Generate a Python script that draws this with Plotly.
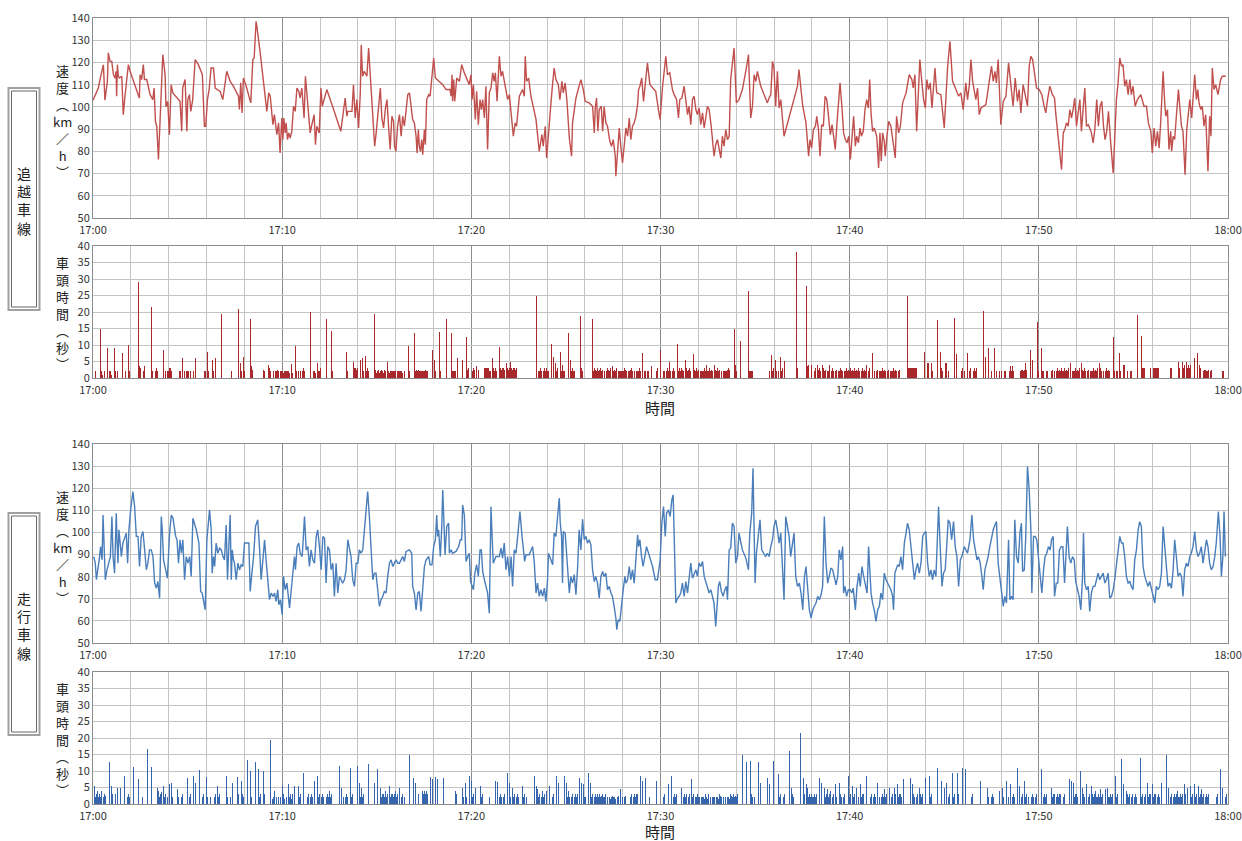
import plotly.graph_objects as go

W, H = 1242, 841

tick_minutes = [0, 10, 20, 30, 40, 50, 60]
tick_labels = ["17:00", "17:10", "17:20", "17:30", "17:40", "17:50", "18:00"]

# ---- speed (minutes after 17:00, km/h) ----
upper_speed = [
    (0.00,103),(0.28,108.5),(0.41,113.8),(0.55,119),(0.63,103),(0.69,108),(0.76,111.5),(0.81,124.3),(0.90,120.5),(0.99,120.5),
    (1.08,114.5),(1.16,113),(1.22,116),(1.25,104.8),(1.29,119),(1.34,113.8),(1.39,113),(1.52,113.8),(1.60,96.5),(1.69,104.8),
    (1.78,113.8),(1.87,119),(1.96,116),(2.22,110),(2.45,104),(2.49,114.5),(2.57,112.3),(2.66,119),(2.72,112.3),(2.84,112.3),
    (3.02,105.5),(3.16,103.3),(3.23,108.5),(3.30,93.5),(3.37,91.3),(3.46,76.3),(3.54,92.8),(3.69,123.5),(3.81,114.5),(3.86,100),
    (3.95,102.5),(4.04,87.5),(4.13,110),(4.22,106.3),(4.60,102.5),(4.69,89),(4.74,108.5),(4.87,112.3),(4.96,89),(5.01,103.3),
    (5.10,105.5),(5.17,98),(5.27,103.3),(5.40,121.3),(5.57,119),(5.78,114.5),(5.89,91.3),(5.96,91.3),(6.05,103.3),(6.14,107.8),
    (6.24,117.5),(6.37,117.5),(6.46,108.5),(6.72,107),(6.86,103.3),(7.07,116),(7.25,111.5),(7.42,109.3),(7.69,104.8),(7.74,98.8),
    (7.81,110.8),(7.88,97.3),(7.95,113),(8.10,109.3),(8.34,101.8),(8.45,121.3),(8.52,122),(8.62,138.5),(8.66,136.3),(8.84,124.3),
    (9.19,98),(9.29,106.3),(9.37,104.8),(9.45,95.8),(9.51,92),(9.59,96.5),(9.68,91.3),(9.72,87.5),(9.81,92.8),(9.89,79.3),
    (9.98,95),(10.04,85.3),(10.09,95),(10.16,88.3),(10.21,92.8),(10.28,85.3),(10.35,88.3),(10.42,86),(10.51,89),(10.60,100.3),
    (10.69,98),(10.78,108.5),(10.88,107),(10.95,104),(11.04,108.5),(11.16,95),(11.23,113.8),(11.31,105.5),(11.48,88.3),(11.57,92),
    (11.69,96.5),(11.76,83),(11.83,91.3),(11.96,88.3),(12.05,108.5),(12.12,100.3),(12.36,107.8),(12.72,98.8),(13.10,89),(13.33,104),
    (13.42,95.8),(13.47,98),(13.69,98),(13.77,110),(13.86,95),(13.95,103.3),(14.04,90.5),(14.13,106.3),(14.18,128),(14.25,113.8),
    (14.34,116),(14.48,113.8),(14.57,126.5),(14.66,113.8),(14.74,103.3),(14.89,82.3),(14.97,88.3),(15.10,99.5),(15.19,108.5),(15.27,95),
    (15.36,90.5),(15.45,98.8),(15.54,103.3),(15.63,90.5),(15.71,80.8),(15.80,95.8),(15.89,93.5),(15.94,82.3),(16.01,80),(16.10,91.3),
    (16.20,96.5),(16.29,86.8),(16.37,95.8),(16.46,91.3),(16.64,105.5),(16.73,106.3),(16.90,94.3),(16.99,92.8),(17.08,86.8),(17.13,79.3),
    (17.20,89.8),(17.25,82.3),(17.31,80),(17.38,85.3),(17.43,78.5),(17.52,89.8),(17.57,83),(17.64,103.3),(17.75,105.5),(17.82,104.8),
    (17.92,113.8),(18.01,122),(18.10,113),(18.27,111.5),(18.49,110),(18.66,107.8),(18.87,107.8),(18.93,104.8),(18.98,114.5),(19.01,102.5),
    (19.07,112.3),(19.12,102.5),(19.23,113),(19.37,111.5),(19.49,119),(19.63,115.3),(19.81,111.5),(19.89,110),(19.98,114.5),(20.04,103.3),
    (20.11,110),(20.21,94.3),(20.28,107),(20.37,92),(20.46,103.3),(20.53,98.8),(20.60,103.3),(20.69,95),(20.77,109.3),(20.86,80.8),
    (20.95,106.3),(21.04,108.5),(21.13,115.3),(21.21,111.5),(21.27,115.3),(21.36,102.5),(21.48,122.8),(21.57,113.8),(21.65,116),(21.80,108.5),
    (21.92,103.3),(22.01,105.5),(22.15,95),(22.22,86.8),(22.32,92.8),(22.39,91.3),(22.54,104.8),(22.71,107.8),(22.80,104.8),(22.85,122.8),
    (22.92,111.5),(23.03,113),(23.15,104.8),(23.42,94.3),(23.59,80),(23.73,87.5),(23.80,82.3),(23.91,91.3),(23.98,77),(24.07,85.3),
    (24.21,101.8),(24.30,110.8),(24.38,117.5),(24.47,112.3),(24.60,110),(24.68,103.3),(24.79,111.5),(24.86,106.3),(24.96,110.8),(25.05,103.3),
    (25.18,86),(25.30,77.8),(25.35,92.8),(25.53,104),(25.79,112.3),(25.92,107.8),(26.02,102.5),(26.23,101.8),(26.41,100.3),(26.50,88.3),
    (26.55,99.5),(26.62,104),(26.69,89),(26.76,98.8),(26.87,100.3),(26.94,89),(27.02,100.3),(27.11,92.8),(27.20,91.3),(27.32,84.5),
    (27.41,82.3),(27.50,85.3),(27.61,77.8),(27.64,68.8),(27.73,77.8),(27.82,90.5),(27.90,82.3),(27.99,74.8),(28.08,82.3),(28.17,90.5),
    (28.26,86.8),(28.35,95),(28.43,85.3),(28.52,91.3),(28.61,92.8),(28.70,95.8),(28.79,101),(28.84,107.8),(28.91,109.3),(29.01,113),
    (29.10,102.5),(29.19,111.5),(29.31,119.8),(29.44,110),(29.58,108.5),(29.75,107),(29.89,98.8),(29.98,94.3),(30.11,109.3),(30.23,117.5),
    (30.28,122.8),(30.37,114.5),(30.49,115.3),(30.63,107.8),(30.72,105.5),(30.85,103.3),(30.95,95),(31.02,103.3),(31.13,104),(31.25,109.3),
    (31.34,103.3),(31.43,96.5),(31.51,100.3),(31.60,92),(31.69,103.3),(31.78,104.8),(31.87,98.8),(31.95,96.5),(32.04,99.5),(32.13,92),
    (32.22,97.3),(32.31,90.5),(32.39,95),(32.48,100.3),(32.57,98.8),(32.68,91.3),(32.83,77.8),(32.92,83),(33.01,85.3),(33.10,80),
    (33.19,77),(33.27,86.8),(33.36,82.3),(33.45,89.8),(33.54,85.3),(33.63,86.8),(33.71,112.3),(33.89,126.5),(34.01,101.8),(34.15,103.3),
    (34.33,107.8),(34.54,117.5),(34.65,123.5),(34.77,95),(34.86,100.3),(34.95,114.5),(35.04,111.5),(35.12,116),(35.30,109.3),(35.48,105.5),
    (35.65,101.8),(35.74,104),(35.83,105.5),(35.92,120.5),(36.00,117.5),(36.09,100.3),(36.18,116),(36.27,99.5),(36.36,103.3),(36.53,86.8),
    (37.24,109.3),(37.32,116.8),(37.52,100.3),(37.69,92.8),(37.83,77.8),(37.90,85.3),(37.99,81.5),(38.08,89.8),(38.19,91.3),(38.26,95.8),
    (38.35,89.8),(38.43,77.8),(38.52,92),(38.61,91.3),(38.70,104.8),(38.79,103.3),(38.89,92.8),(38.98,87.5),(39.07,92),(39.15,85.3),
    (39.24,80.8),(39.33,92.8),(39.49,110.8),(39.60,98.8),(39.68,88.3),(39.77,85.3),(39.86,83.8),(39.95,86.8),(40.04,76.3),(40.12,86),
    (40.21,95.8),(40.30,82.3),(40.37,86.8),(40.46,83.8),(40.55,90.5),(40.62,86.8),(40.72,89),(40.81,98.8),(40.90,103.3),(40.99,99.5),
    (41.06,112.3),(41.13,97.3),(41.21,89),(41.30,90.5),(41.43,86.8),(41.53,72.5),(41.60,88.3),(41.67,75.5),(41.74,88.3),(41.83,84.5),
    (41.88,77.8),(41.97,86.8),(42.06,93.5),(42.18,91.3),(42.31,83.8),(42.41,77),(42.48,95.8),(42.59,88.3),(42.68,91.3),(42.80,101.8),
    (42.98,106.3),(43.15,114.5),(43.29,112.3),(43.36,108.5),(43.45,114.5),(43.54,89),(43.64,107.8),(43.71,121.3),(43.82,110.8),(43.91,103.3),
    (44.00,99.5),(44.08,112.3),(44.17,107.8),(44.26,110.8),(44.35,99.5),(44.44,110.8),(44.51,117.5),(44.60,106.3),(44.82,105.5),(45.00,90.5),
    (45.18,118.3),(45.30,129.5),(45.44,111.5),(45.62,107.8),(45.76,104.8),(45.88,106.3),(46.00,98.8),(46.14,110.8),(46.23,103.3),(46.32,109.3),
    (46.41,121.3),(46.50,111.5),(46.58,107),(46.67,103.3),(46.76,108.5),(46.85,96.5),(46.94,99.5),(47.20,101),(47.38,111.5),(47.50,118.3),
    (47.59,111.5),(47.68,116),(47.76,110.8),(47.85,121.3),(47.90,111.5),(47.99,92),(48.12,102.5),(48.26,104.8),(48.40,119.8),(48.52,108.5),
    (48.64,100.3),(48.75,113),(48.87,102.5),(48.96,107.8),(49.05,97.3),(49.17,110),(49.31,103.3),(49.40,100.3),(49.49,118.3),(49.58,122.8),
    (49.67,121.3),(49.75,116.8),(49.88,108.5),(50.02,107.8),(50.16,105.5),(50.28,100.3),(50.37,97.3),(50.46,103.3),(50.58,109.3),(50.72,105.5),
    (50.83,104),(50.90,96.5),(50.99,89.8),(51.07,82.3),(51.20,71.8),(51.29,88.3),(51.37,89.8),(51.46,92.8),(51.55,91.3),(51.64,98.8),
    (51.73,95),(51.81,98.8),(51.90,104),(51.99,91.3),(52.08,97.3),(52.17,103.3),(52.25,89),(52.34,100.3),(52.43,108.5),(52.52,91.3),
    (52.61,92),(52.69,90.5),(52.78,88.3),(52.87,83.8),(52.96,89.8),(53.06,103.3),(53.15,91.3),(53.24,100.3),(53.33,102.5),(53.42,91.3),
    (53.50,85.3),(53.59,89),(53.68,98),(53.80,83.8),(53.93,70.3),(54.01,85.3),(54.10,103.3),(54.19,110.8),(54.28,122),(54.37,118.3),
    (54.45,119),(54.54,109.3),(54.63,112.3),(54.72,105.5),(54.81,112.3),(54.89,105.5),(54.98,109.3),(55.09,100.3),(55.21,103.3),(55.39,105.5),
    (55.56,100.3),(55.69,100.3),(55.79,92.8),(55.92,89),(56.00,79.3),(56.09,90.5),(56.18,82.3),(56.27,89),(56.36,81.5),(56.44,92.8),
    (56.57,116),(56.65,102.5),(56.71,95.8),(56.80,98.8),(56.88,80.8),(56.97,89),(57.02,80),(57.10,86.8),(57.18,85.3),(57.27,95.8),
    (57.38,107.8),(57.45,100.3),(57.54,91.3),(57.62,89),(57.73,69.5),(57.82,89.8),(57.90,98.8),(57.98,103.3),(58.08,95),(58.15,103.3),
    (58.24,114.5),(58.33,103.3),(58.40,107.8),(58.47,101.8),(58.56,98.8),(58.64,100.3),(58.73,91.3),(58.82,96.5),(58.94,71),(59.03,95.8),
    (59.10,86.8),(59.17,117.5),(59.26,107.8),(59.35,110),(59.47,105.5),(59.61,112.3),(59.70,113.8),(59.88,113.8),
]

lower_speed = [
    (0.04,89.1),(0.12,86.1),(0.18,78.6),(0.26,83.1),(0.35,89.1),(0.40,93.6),(0.48,87.6),(0.53,107.9),(0.58,92.1),(0.65,78.6),
    (0.74,83.1),(0.83,86.1),(0.92,89.1),(1.00,107.2),(1.06,89.1),(1.14,81.6),(1.23,108.7),(1.27,96.7),(1.32,86.1),(1.37,101.2),
    (1.44,95.2),(1.50,89.1),(1.58,95.2),(1.67,97.4),(1.76,99.7),(1.83,86.1),(1.90,101.2),(1.99,110.2),(2.11,118.5),(2.20,111.7),
    (2.29,98.2),(2.38,98.2),(2.46,84.6),(2.55,98.2),(2.64,100.4),(2.73,92.1),(2.82,83.1),(2.90,86.1),(2.99,92.1),(3.08,92.1),
    (3.17,89.1),(3.26,77.1),(3.35,74.8),(3.43,77.8),(3.52,70.3),(3.61,107.2),(3.66,101.2),(3.73,87.6),(3.82,83.1),(3.93,79.3),
    (4.05,99.7),(4.14,107.9),(4.23,106.4),(4.37,98.2),(4.44,96.7),(4.52,86.1),(4.60,96.7),(4.67,90.6),(4.75,96.7),(4.84,78.6),
    (4.93,89.1),(5.02,86.1),(5.11,89.1),(5.19,80.1),(5.28,106.4),(5.37,104.2),(5.46,101.2),(5.60,95.2),(5.69,73.3),(5.77,72.6),
    (5.85,68.8),(5.93,65.0),(6.02,96.7),(6.11,108.7),(6.16,110.2),(6.25,101.2),(6.30,81.6),(6.37,89.1),(6.43,84.6),(6.51,95.2),
    (6.60,90.6),(6.69,92.9),(6.78,92.1),(6.87,89.1),(6.95,87.6),(7.04,103.4),(7.11,78.6),(7.18,93.6),(7.25,107.9),(7.31,78.6),
    (7.36,92.1),(7.43,87.6),(7.48,86.1),(7.57,78.6),(7.66,86.1),(7.75,83.1),(7.83,85.4),(7.92,84.6),(8.01,95.2),(8.24,95.2),
    (8.31,73.3),(8.40,81.6),(8.49,89.1),(8.59,102.7),(8.71,105.7),(8.80,93.6),(8.89,78.6),(8.98,87.6),(9.07,96.7),(9.15,87.6),
    (9.24,80.1),(9.33,69.6),(9.42,72.6),(9.51,71.1),(9.60,72.6),(9.68,68.8),(9.77,74.1),(9.82,67.3),(9.91,69.6),(10.00,62.8),
    (10.07,80.1),(10.16,74.1),(10.25,77.1),(10.32,71.1),(10.39,65.8),(10.48,74.1),(10.56,80.1),(10.65,89.1),(10.70,83.1),(10.79,93.6),
    (10.88,95.2),(10.95,90.6),(11.06,89.1),(11.13,102.7),(11.18,107.2),(11.27,92.1),(11.36,93.6),(11.44,84.6),(11.53,92.1),(11.62,87.6),
    (11.71,86.1),(11.80,98.2),(11.88,101.2),(11.97,93.6),(12.06,83.1),(12.15,98.2),(12.24,97.4),(12.32,77.1),(12.41,93.6),(12.50,92.1),
    (12.59,83.1),(12.68,86.1),(12.76,71.1),(12.85,86.1),(12.94,72.6),(13.03,80.1),(13.12,78.6),(13.20,77.1),(13.29,78.6),(13.38,83.1),
    (13.47,96.7),(13.56,92.1),(13.64,89.1),(13.73,78.6),(13.82,75.6),(13.91,86.1),(14.00,86.1),(14.08,92.1),(14.17,90.6),(14.26,92.1),
    (14.35,102.7),(14.44,110.2),(14.52,118.5),(14.61,107.2),(14.70,89.1),(14.79,78.6),(14.88,81.6),(14.96,81.6),(15.05,74.1),(15.14,66.6),
    (15.23,69.6),(15.32,71.1),(15.40,73.3),(15.49,72.6),(15.58,80.1),(15.67,86.1),(15.76,87.6),(15.85,84.6),(15.93,86.1),(16.02,87.6),
    (16.11,86.1),(16.20,86.1),(16.37,89.1),(16.46,86.9),(16.55,91.4),(16.73,92.1),(16.85,90.6),(16.90,75.6),(16.99,72.6),(17.08,65.0),
    (17.17,72.6),(17.25,73.3),(17.34,64.3),(17.43,75.6),(17.52,84.6),(17.61,87.6),(17.75,89.1),(17.82,85.4),(17.92,85.4),(18.01,93.6),
    (18.10,96.7),(18.17,107.9),(18.22,98.2),(18.27,101.2),(18.36,89.1),(18.43,101.2),(18.49,119.2),(18.54,107.2),(18.61,89.9),(18.70,102.7),
    (18.80,104.2),(18.84,90.6),(18.93,92.1),(19.01,90.6),(19.19,91.4),(19.33,93.6),(19.42,96.7),(19.49,96.7),(19.54,112.4),(19.63,107.9),
    (19.72,86.9),(19.81,89.1),(19.89,90.6),(19.96,77.8),(20.04,75.6),(20.11,74.1),(20.19,81.6),(20.28,85.4),(20.37,80.1),(20.46,92.1),
    (20.53,92.1),(20.60,82.4),(20.69,78.6),(20.77,76.3),(20.86,72.6),(20.95,63.5),(21.00,87.6),(21.04,111.7),(21.09,99.7),(21.16,86.1),
    (21.30,89.1),(21.48,89.1),(21.57,92.9),(21.65,88.4),(21.74,95.2),(21.83,83.1),(21.92,89.1),(22.01,80.1),(22.10,89.1),(22.18,75.6),
    (22.27,92.1),(22.36,90.6),(22.45,98.2),(22.57,109.5),(22.68,98.2),(22.82,86.9),(22.89,89.9),(23.06,89.9),(23.24,93.6),(23.33,86.1),
    (23.42,72.6),(23.50,77.1),(23.59,71.1),(23.68,74.1),(23.77,71.1),(23.86,74.8),(23.94,68.8),(24.03,78.6),(24.08,90.6),(24.21,87.6),
    (24.30,85.4),(24.38,99.7),(24.47,98.2),(24.56,107.2),(24.65,115.5),(24.70,104.2),(24.77,98.2),(24.82,77.1),(24.86,100.4),(24.96,99.7),
    (25.05,87.6),(25.12,75.6),(25.18,72.6),(25.26,80.1),(25.35,77.1),(25.44,80.9),(25.53,71.8),(25.62,84.6),(25.70,101.2),(25.79,92.1),
    (25.88,106.0),(25.97,96.7),(26.06,98.2),(26.14,95.2),(26.23,96.7),(26.32,94.4),(26.41,83.1),(26.50,77.8),(26.58,80.1),(26.67,77.1),
    (26.76,70.3),(26.85,80.1),(26.94,82.4),(27.02,80.1),(27.11,81.6),(27.20,74.1),(27.29,75.6),(27.38,72.6),(27.46,71.1),(27.55,66.6),
    (27.64,61.3),(27.69,56.0),(27.76,60.5),(27.85,59.8),(27.94,68.1),(28.03,74.1),(28.12,80.1),(28.17,77.1),(28.26,78.6),(28.35,84.6),
    (28.43,78.6),(28.52,83.1),(28.61,77.1),(28.70,89.1),(28.79,98.9),(28.84,93.6),(28.91,96.7),(29.00,89.1),(29.08,84.6),(29.17,89.1),
    (29.26,93.6),(29.37,90.6),(29.49,87.6),(29.58,84.6),(29.72,78.6),(29.84,78.6),(29.98,87.6),(30.07,104.2),(30.16,111.7),(30.25,98.2),
    (30.32,108.7),(30.42,110.2),(30.51,107.2),(30.60,114.8),(30.67,117.0),(30.72,93.6),(30.81,68.1),(30.90,70.3),(30.99,71.1),(31.07,72.6),
    (31.16,77.1),(31.25,71.1),(31.34,77.8),(31.43,72.6),(31.51,80.1),(31.60,86.1),(31.69,79.3),(31.78,81.6),(31.87,83.1),(31.95,80.1),
    (32.04,86.1),(32.13,84.6),(32.22,86.9),(32.31,80.1),(32.39,77.8),(32.48,75.6),(32.57,72.6),(32.66,74.1),(32.75,71.1),(32.83,68.1),
    (32.92,57.5),(32.98,68.1),(33.06,75.6),(33.13,77.8),(33.22,73.3),(33.31,71.1),(33.40,74.1),(33.49,75.6),(33.54,69.6),(33.63,92.1),
    (33.71,92.9),(33.80,104.2),(33.89,102.7),(33.98,86.1),(34.07,89.1),(34.15,99.7),(34.33,92.1),(34.51,88.4),(34.65,83.1),(34.72,99.7),
    (34.82,108.7),(34.89,129.0),(34.95,101.2),(35.00,77.1),(35.07,90.6),(35.18,98.2),(35.26,105.7),(35.35,92.1),(35.44,90.6),(35.56,89.1),
    (35.65,90.6),(35.74,89.1),(35.83,93.6),(35.92,96.7),(36.00,102.7),(36.09,105.7),(36.18,101.2),(36.27,95.2),(36.36,99.7),(36.44,86.1),
    (36.53,69.6),(36.62,107.2),(36.71,103.4),(36.80,98.2),(36.88,89.1),(36.97,94.4),(37.06,99.7),(37.15,80.1),(37.24,75.6),(37.34,77.1),
    (37.43,72.6),(37.52,65.0),(37.61,80.1),(37.69,84.6),(37.87,65.0),(37.96,61.3),(38.05,65.0),(38.13,66.6),(38.22,68.1),(38.31,71.1),
    (38.40,69.6),(38.49,71.8),(38.57,75.6),(38.66,107.2),(38.75,86.1),(38.84,77.1),(38.93,81.6),(39.01,83.9),(39.10,83.1),(39.19,80.1),
    (39.28,76.3),(39.37,80.1),(39.45,92.1),(39.54,87.6),(39.63,93.6),(39.68,72.6),(39.75,75.6),(39.84,71.1),(39.93,74.1),(40.02,74.1),
    (40.11,72.6),(40.19,74.8),(40.30,65.0),(40.39,75.6),(40.48,81.6),(40.56,75.6),(40.65,84.6),(40.74,80.1),(40.83,75.6),(40.92,72.6),
    (41.00,93.6),(41.07,80.1),(41.13,72.6),(41.21,68.1),(41.30,65.0),(41.39,59.8),(41.48,65.0),(41.57,66.6),(41.65,72.6),(41.74,69.6),
    (41.83,81.6),(41.92,78.6),(42.01,77.1),(42.10,75.6),(42.18,74.1),(42.27,71.1),(42.32,65.0),(42.39,81.6),(42.45,83.1),(42.54,85.4),
    (42.62,84.6),(42.71,89.1),(42.80,83.1),(42.89,95.2),(42.98,99.7),(43.06,104.2),(43.15,101.2),(43.24,93.6),(43.33,87.6),(43.42,78.6),
    (43.50,83.1),(43.59,86.1),(43.68,81.6),(43.77,86.1),(43.86,98.2),(43.94,99.7),(44.03,100.4),(44.12,86.1),(44.21,80.1),(44.30,83.1),
    (44.38,78.6),(44.47,83.1),(44.56,80.1),(44.70,111.7),(44.77,96.7),(44.88,75.6),(44.96,81.6),(45.05,83.1),(45.14,95.2),(45.21,105.7),
    (45.30,104.2),(45.39,96.7),(45.49,104.9),(45.58,93.6),(45.67,89.1),(45.76,75.6),(45.85,87.6),(45.93,89.1),(46.06,93.6),(46.14,92.1),
    (46.23,90.6),(46.36,96.7),(46.46,107.9),(46.55,96.7),(46.64,92.1),(46.73,87.6),(46.81,89.1),(46.90,86.1),(46.99,80.1),(47.06,74.1),
    (47.15,83.1),(47.24,86.1),(47.32,89.1),(47.41,93.6),(47.50,98.2),(47.59,101.2),(47.68,103.4),(47.76,104.9),(47.85,86.1),(47.94,78.6),
    (48.03,72.6),(48.12,66.6),(48.20,71.1),(48.29,68.1),(48.40,96.7),(48.47,69.6),(48.56,71.1),(48.64,69.6),(48.73,105.7),(48.82,89.1),
    (48.91,86.1),(49.00,99.7),(49.08,104.2),(49.14,82.4),(49.23,83.1),(49.31,98.2),(49.40,129.8),(49.49,119.2),(49.58,101.2),(49.63,72.6),
    (49.72,98.2),(49.81,98.2),(49.89,96.7),(49.98,89.1),(50.07,80.1),(50.16,72.6),(50.25,83.1),(50.33,89.1),(50.42,90.6),(50.51,93.6),
    (50.60,92.1),(50.67,96.7),(50.76,98.2),(50.83,71.1),(50.92,77.1),(51.00,77.1),(51.09,92.1),(51.18,93.6),(51.27,93.6),(51.36,77.1),
    (51.43,89.1),(51.51,102.7),(51.60,89.1),(51.69,86.1),(51.78,89.1),(51.87,87.6),(51.95,77.8),(52.04,74.1),(52.13,71.1),(52.22,65.0),
    (52.31,80.1),(52.36,99.7),(52.43,77.1),(52.52,74.1),(52.61,75.6),(52.69,64.3),(52.78,72.6),(52.87,75.6),(52.96,75.6),(53.05,78.6),
    (53.13,81.6),(53.22,78.6),(53.31,80.1),(53.40,81.6),(53.49,77.1),(53.57,78.6),(53.66,81.6),(53.75,70.3),(53.84,71.1),(53.93,74.1),
    (54.01,78.6),(54.10,84.6),(54.19,92.1),(54.28,98.2),(54.37,95.2),(54.45,95.2),(54.54,89.1),(54.63,80.1),(54.72,77.1),(54.81,77.8),
    (54.89,75.6),(54.98,74.1),(55.07,87.6),(55.16,92.1),(55.25,101.2),(55.33,104.9),(55.42,102.7),(55.51,84.6),(55.60,80.1),(55.69,77.1),
    (55.77,75.6),(55.86,77.8),(55.95,74.1),(56.04,71.1),(56.13,68.1),(56.21,75.6),(56.30,74.1),(56.39,75.6),(56.48,81.6),(56.57,102.7),
    (56.65,95.2),(56.74,83.1),(56.83,75.6),(56.92,77.1),(57.01,74.8),(57.10,83.1),(57.18,96.7),(57.27,89.1),(57.36,80.1),(57.45,81.6),
    (57.54,80.1),(57.62,71.1),(57.71,83.1),(57.80,86.1),(57.89,84.6),(57.98,89.1),(58.06,90.6),(58.15,93.6),(58.24,100.4),(58.33,92.1),
    (58.42,89.1),(58.50,90.6),(58.59,93.6),(58.68,86.1),(58.77,92.1),(58.86,96.7),(58.94,93.6),(59.03,86.1),(59.12,83.1),(59.21,84.6),
    (59.30,89.1),(59.38,95.2),(59.49,109.5),(59.58,98.2),(59.65,80.1),(59.73,89.1),(59.79,109.5),(59.86,89.1),
]

# ---- headways (seconds between successive vehicles, in order of arrival) ----
upper_headway = [
    "6 2 15 2 2 2 1 5 2 1 9 4 2 2 2 1 2",
    "9 2 2 3 2 7.2 7.5 2 6.8 2 10 2",
    "29.2 3.5 3 4 3.5 2 3.5",
    "21.5 2 2 7 2 3 2 2.5 9.5 8.5 4.5 2 4 2 2 3 2 3 2",
    "24.5 2 2 6 2 3 2 2 3 2 2 2 2",
    "4.5 2 7 2 6.2 24.3 3 2 2",
    "8 2 2 6 5.5 2 6.2 19.5",
    "17.5 12.5 2 2 21 4.5 2 2 6.3 2 2",
    "18 3.5 2.5 2 3 28.7",
    "2.5 2 2 6.5 4 3 2 2 2 5.5 2 4.5 2 1.5 2 2.5 1.5 2 2 3 2 1.5 2",
    "2 2 1.5 2 2.5 2 1.5 2 2 2.5 2 1.5 2 4.2 2 1.5 9.8 2 2 4.5 2 4.5 2 4.5 2 3 2",
    "20 7 2 2 2 1.5 2 4.5 2 2 2 2 3",
    "17.8 2 14.3 2 2 13.7",
    "15.6 6 7.8 2 2 14.3 5 3 3 2.5 3 2.5 3 5.5 6 2 6.8 2 2 3 2",
    "19.3 2 2.5 1.5 2 2 2.5 2 1.5 2 2 2.5 2 2 1.5 2 2.5 2 2",
    "5 2 2 1.5 2.5 2 2 1.5 2 2.5 2 2 1.5 2 2 2.5 2 2 1.5 2 2.5 2 2 2 1.5 2 2.5 2 2",
    "9.8 2 2 2 13.5",
    "2.5 2 2.5 2 2 2.5 2 2.5 2 2 2.5 2 2 2.5 2 2.5 2 2 2 2 6.5 8.5 5.5",
    "2 14 2 2 18 2 13.5 2 2 2 2 2 2 2 6 10.3 5.5 12.5",
    "2.5 3 2 3.5 2.5 3 2 3 2.5 3 3.5 2 3 2.5 7.6",
    "3 3 3 3 3 3 3 3 2 3 2 6 3 2 3 3 2 9.5",
    "3 2.5 3 3 2.5 3 4.5 3 2.5 3 5 3 2.5 3 3 2.5 3 3 2.5 13.5 3 3 3 3 3 3.5 3 25",
    "4 2 2 3 2 2 4.2 2 3 2 2 3 2 2 2 10.2 6.5 4.5 2 2 3 2 8 2 4 2 2 2 13.5 5.5 2 2 3 2 2 2 18.8 3 2 2 7.5 6.5 18",
    "2 3 2 2.5 2 3 2 2 2.5 3 2 2 2.5 2 3 2 2 2.5 2 3",
    "2.5 2 2 3 2 3.5 2 2 2.5 2 2 3 2 2.5 2 2 3 2 2 2.5",
    "2 2 3 2 2.5 2 2 3.5 2 2 2.5 2 3 2 2 2.5 2 2 3 2",
    "2 2.5 2 3 2 7.5 4.2 2 2 5.8 2 2 5.5 3.5 2 13 2 3 2 8.5 7.5 2 2 5 2 3 2 5 2 5.5 2 3 2 10.4",
    "2 3 2 2 3 2.5 2 2 5.5 2 3 2 2.5 2 3 2 2 7.2 2 2.5 2 3 2 2 2.5 2 3 2 2 2.5 2 2 3 2",
    "2 4 2 2.5 2 3 2 2 2.5 2 2 4 2 2.5 2 3 2 2 2.5 2 3 2 2 2.5 2 2 3 2 2 2.5 2 3 2.5",
    "14.7 4 2 2 11.3 26.5 2 2 2 2 2 2 2 6.5 3 31.3 9.5 2 7 2 3 2 5.5 2 5.7 2 6.5 2 3 2 5.2 38.3 3 27.9",
    "3.5 4 3.5 4 2 6.6",
    "2 3 2 4 2 2.5 3 2 2 4 2 3 2 2.5 2 3.5 2 2 4 2",
    "2.5 2 3 2 2 4 2 2.5 2 3 2 2 3 2 2.5 2 2 3 2 2",
    "2 3 2 2 2.5 2 3 2 2 2.5 2 2 3 2 2 2.5 2 3 2 2",
    "4.8 2 3 2 2 2.5 2 4 2 2.5 2 3 2 7.5 2 3 2 4.5",
    "2 2.5 2 3 2 2 2.5 2 3 2 2 2.5 2 2 3 2 2.5 2 3 2 2 2.5 2 3 2 2 2.5 2 2 3 2 2.5 2",
    "25 3 3 3 3 3 3 3 3 3 18 8 4.5 4.5 4.5 4.5 4.5 2 17.5 8 2 3 2 4.5 4.5 4.5 4.5 2 18.2 7.3 6.8 6.2",
    "2 3 4.5 2 2 7.5 2 3 2 3 7.5 2 3 2 3 3 20.4 6.5 9.2 2 5.5 2 9 5 2 7.8 2 4.5 2 7.2 2 2 12.2",
    "2 3.5 2 3.5 2 3 3 3 10 2.5 2 2.5 2 2.5 2 2.5 4.5 2.5 2 2.5 8.5 5.5 17 2 2 9 2 2 2 8 2 2 11",
    "2 2.5 2 3 2 2 2.5 2 3 2 2 2.5 2 2 3 2 2.5 2 3 2 2 2.5 2 3 2 4.5",
    "2 3 2 2 2.5 2 3 2 2 2.5 2 3 2 4.5 2 2.5 2 3 2 2 4.5",
    "2 2.5 2 3 2 2 2.5 2 3 2 2 2.5 2 3 2 4.5 2 3 2 2 2.5 2 4.5 2 3 2 2 2.5 2 2 12.4 2 5 2 2 7.5 2 2 4 4 4 4 4 2 7.5 2 2 19 12.6",
    "3 3 3 3 3 3 3 3 3 3 6.5 3 3 3 3 3 3 17.9 3 3 3 3 3 3 3 3 7 3 4 3 5 3 4 5 3 4 5 3 4 3 4 7.2 6 7.5 3 4 3 5.5",
    "2.5 2 2.5 2 2.5 2 2.5 2 2.5 2 2.5 2 2.5 2 3.5 2.5 16.5 9 2 2",
]

lower_headway = [
    "5.5 2 3 4 2 1.5 3 2 4 2 3 2 3 2.5 12.8 5.5 3 2 6.5 3 5 5 5 2 3 8.5 4 3 2 3 2 2.5 11.2 8 7.5 5 6 2",
    "16.8 11.2 5.5 9 5 4 2 3 3.5 2 5.5 2 3 2 3 2 6.2 6.5 2 3 9.5 4.5 2 3 5.5 2 3 8.2 7.8 2 3 2 3 8.5 6.5 2 10.2 8.5 2 3 2",
    "8.2 2 8.3 2 7.5 3 2 3 2 5.5 2 3 2 12.8 8.5 2 5 3 2 6.5 7.2 8.3 3 2 7 2 3 2 13.2 10 2 12.7 10.5 2 3 10 3 19.5",
    "2 3 1.5 2 4 2 3 2 1.5 3 2 3.5 2 5.5 2 3 1.5 2 4 2 6 2 3 2 1.5 3 2 5.5 7 5.5 2 3 9.5 6 6.5 2 3 4.5 2 3 2 7 2 8.5 2 3 5 2 3 2 3 5.5 2 3 1.5 2 4 2 3 2",
    "13 11.5 5 2 3 2 5 2 3 2 10.8 2 3 2 3 11.6 6.5 2 5 2 3 2 3 12 10.8 6.5 10.5 2 3 5 2 3 2 3 2 4 2 3 2 5.5 2 3 2 3 2 3 4 2 3 2 5 2 3 2 3 1.5 3 2 15 5 8 6.5 7.5",
    "3 4 3 4 3 4 3 4 3 8.2 7.5 8.3 7.5 8 3 7.8 8.2 6.5 6.2 6.3 6.5 4 3 2 12.8 5 2 6.5 3 2 8.5 7 2 3 2 5 2 3 6 5.5 2 3 2 19.5 2 7.8 3 7 6.8 5.5 2 3 2 5 2 3 9.5 6.5 2 3 5 2 3 5.5 2 3 2 9 5.5 2 3 2 3 2",
    "17 8.5 5.5 4.5 2 3 2 3 2 4 2 3 2 4 2 3 5.5 8 2 3 8.5 6.5 11.5 8.5 6.5 2 4 2 5 2 3 2 3 2 3 2 3 7.8 6.5 6 2 3 2 9.5 6.5 2 3 5 2 3 2",
    "2 3 2 1.5 3 2 2.5 2 3 2 1.5 2 3 2 2.5 2 2 3 2 1.5 3 2 2.5 2 3 2 1.5 2 3 2 2.5 2 4.5 2 3 2 1.5 3 2 2.5 2 3",
    "9.5 2 3 5 2 3 2 3 2 3 8.5 7 8 2 10.5 2 13.5 7 11.5 10.2 2 3 7 6 8.5 2 3 2 3 2 3 2 10 5 2 3 2 3 2 3 2 3 2 3 7.5 2 3 2 3 2",
    "2 1.5 3 2 2.5 2 1.5 3 2 2 2.5 2 1.5 3 2 2 2 1.5 3 2 2.5 2 1.5 3 2 2 2.5 2 1.5 3 2 2",
    "2 1.5 3 2 2.5 2 1.5 3 2 2 2.5 2 1.5 3 2 2 2 1.5 3 2 2.5 2 1.5 3 2 2 2.5 2 3 2",
    "14.8 12.6 13 3 2 2 3 2 12.8 6.5 13.8 8 6 13 8 9 2 3 8.5 2 3 16 5 2 3 2 21.5 2 8 3 6 5 2 3 2 2 3 2 3 2 3 2 3 2 8",
    "6.5 2 3 5 2 3 4.5 2 3 4 2 3 2 3 6 2 3 6.5 2 3 2 5 2 3 2 3 8.5 2 3 2 5.5 2 3 2 5 2 3 2 6 2 3 2 3 8.5 2 3 6.5 2 3 4.5 2 3 2 6.5 2 3 2 5 2 3 2 4.5 2 3 2 3 5 2 3 2 3 5 2 3 6 2 3 2 3 2 7.5 12.8",
    "8 6 2 3 2 5 2 3 5 2 3 2 3 2 8 2 3 8.5 2 3 8.5 11 2 3 7 2 3 5 6.5 2 3 2 3 9.5 2 3 9.5 2 3 11 10.5 11 6 2 3 2 3 12.8 7 2 3 13 5 2 3 6.5 2 3 2 15.2",
    "4 2 3 5 2 3 7 2 3 2 6 2 3 2 3 2 10.8 5.5 2 3 2 3 7 2 3 2 3 2 8 2 3 2 5 2 3 2 3 10.5 5.5 2 3 2 3 2 10.2 5 2 3 2 3 4 2 3 2 3 2 3 7.5 2 3 7.5 7.5 7 6.5",
    "2 3 2 3 2 10 5 2 3 2 6 2 3 2 3 5.5 2 3 2 3 4 2 3 2 3 2 4.5 2 3 2 3 4.5 2 5 2 3 2 3 2 3 2 8.5 2 3 13.5 6 2 3 4 2 3 2 3 5 2 3 2 3 2 3 2 14",
    "2 3 5.5 2 3 6.5 2 3 2 3 6 2 3 2 3 4 2 3 2 6.5 2 15 5 2 3 2 3 5.5 2 3 2 3 4 2 3 2 3 2 3 6 2 3 5 2 3 5.5 2 3 2 6 2 3 2 5.5 2 3 4.5 2 3 2 3 2 3 2 2 3 17 6 2 3 10.5 5 2 3 4 2 3",
]

# ---- colours ----
RED_LINE = "#c0504d"
RED_BAR = "#a8282c"
BLUE_LINE = "#4a7ebb"
BLUE_BAR = "#3566ad"
GRID = "#c4c4c4"
GRID_MAJOR = "#8c8c8c"
FONT = "Noto Sans CJK JP"


def arrivals(runs):
    values = [float(v) for run in runs for v in run.split()]
    times, total = [], 0.0
    for v in values:
        total += v
        times.append(total / 60.0)
    return times, values


fig = go.Figure()

ut, uv = zip(*upper_speed)
lt, lv = zip(*lower_speed)
uh_t, uh_v = arrivals(upper_headway)
lh_t, lh_v = arrivals(lower_headway)

BAR_W = 0.035  # minutes, under one pixel

fig.add_trace(go.Scatter(x=ut, y=uv, mode="lines", line=dict(color=RED_LINE, width=1.4),
                         xaxis="x", yaxis="y", showlegend=False, hoverinfo="skip"))
fig.add_trace(go.Bar(x=uh_t, y=uh_v, width=BAR_W, marker=dict(color=RED_BAR, line=dict(width=0)),
                     xaxis="x2", yaxis="y2", showlegend=False, hoverinfo="skip"))
fig.add_trace(go.Scatter(x=lt, y=lv, mode="lines", line=dict(color=BLUE_LINE, width=1.4),
                         xaxis="x3", yaxis="y3", showlegend=False, hoverinfo="skip"))
fig.add_trace(go.Bar(x=lh_t, y=lh_v, width=BAR_W, marker=dict(color=BLUE_BAR, line=dict(width=0)),
                     xaxis="x4", yaxis="y4", showlegend=False, hoverinfo="skip"))


def px_x(p):
    return p / W


def px_y(p):
    return 1 - p / H


X_DOM = [px_x(93), px_x(1228)]
panels = {  # (top px, bottom px)
    "": (18, 218),
    "2": (246, 378),
    "3": (444, 643),
    "4": (672, 804),
}
yranges = {"": [50, 140], "2": [0, 40], "3": [50, 140], "4": [0, 40]}
ydticks = {"": 10, "2": 5, "3": 10, "4": 5}

layout = dict(
    template="none",
    width=W, height=H, margin=dict(l=0, r=0, t=0, b=0, autoexpand=False),
    paper_bgcolor="white", plot_bgcolor="white",
    bargap=0, barmode="overlay", showlegend=False,
    font=dict(family=FONT, size=11, color="#333"),
)
for k, (top, bot) in panels.items():
    layout["xaxis" + k] = dict(
        domain=X_DOM, range=[0, 60], anchor="y" + k, automargin=False,
        tickmode="array", tickvals=tick_minutes, ticktext=tick_labels,
        showgrid=True, gridcolor=GRID_MAJOR, gridwidth=1,
        minor=dict(tickmode="linear", tick0=0, dtick=2, showgrid=True, gridcolor=GRID, gridwidth=1),
        showline=True, linecolor="#8c8c8c", linewidth=1, mirror=True,
        zeroline=False, ticks="", ticklabelstandoff=2,
        tickfont=dict(size=11, color="#333", family=FONT),
        fixedrange=True,
    )
    layout["yaxis" + k] = dict(
        domain=[px_y(bot), px_y(top)], range=yranges[k], anchor="x" + k, automargin=False,
        dtick=ydticks[k], tick0=0,
        showgrid=True, gridcolor=GRID, gridwidth=1,
        showline=True, linecolor="#8c8c8c", linewidth=1, mirror=True,
        zeroline=False, ticks="", tickfont=dict(size=11, color="#333", family=FONT),
        fixedrange=True,
    )

annotations = []


def text_ann(text, xp, yp, size=15, color="#222"):
    annotations.append(dict(text=text, x=px_x(xp), y=px_y(yp), xref="paper", yref="paper",
                            showarrow=False, xanchor="center", yanchor="middle",
                            font=dict(size=size, color=color, family=FONT)))


speed_title = "<br>".join(["速", "度", "︵", "km", "／", "h", "︶"])
headway_title = "<br>".join(["車", "頭", "時", "間", "︵", "秒", "︶"])
text_ann(speed_title, 62, 121, size=13)
text_ann(speed_title, 62, 547, size=13)
text_ann(headway_title, 62, 313, size=13)
text_ann(headway_title, 62, 739, size=13)

text_ann("<br>".join("追越車線"), 23.5, 200, size=14)
text_ann("<br>".join("走行車線"), 23.5, 625, size=14)

text_ann("時間", 660, 408, size=15)
text_ann("時間", 660, 831, size=15)

shapes = []
for top, bot in ((88, 310), (513, 735)):
    shapes.append(dict(type="rect", xref="paper", yref="paper",
                       x0=px_x(8.5), x1=px_x(39.5), y0=px_y(bot), y1=px_y(top),
                       line=dict(color="#a0a0a0", width=2), fillcolor="rgba(0,0,0,0)"))
    shapes.append(dict(type="rect", xref="paper", yref="paper",
                       x0=px_x(11.5), x1=px_x(36.5), y0=px_y(bot - 3), y1=px_y(top + 3),
                       line=dict(color="#666666", width=1), fillcolor="rgba(0,0,0,0)"))

layout["annotations"] = annotations
layout["shapes"] = shapes
fig.update_layout(**layout)

fig.write_html("out.html", config={"displayModeBar": False, "staticPlot": True})
